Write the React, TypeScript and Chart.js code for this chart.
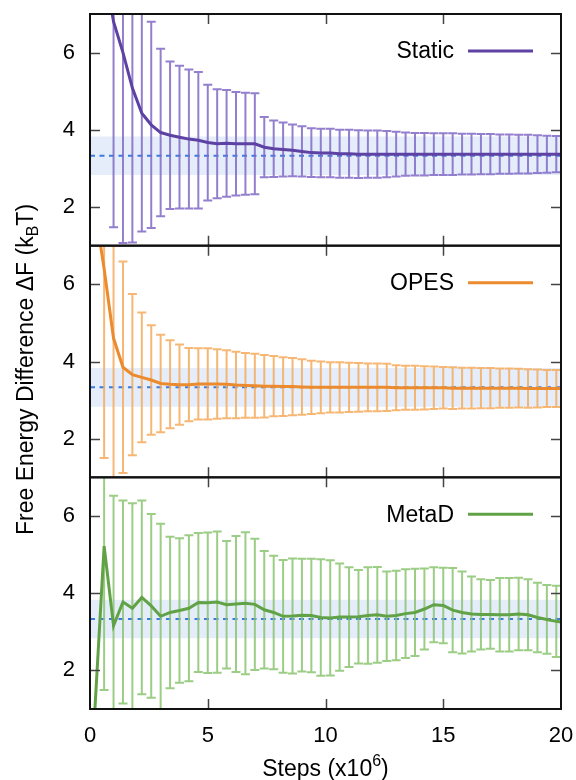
import React, { useEffect, useRef } from 'react';
import { Chart, registerables } from 'chart.js';

Chart.register(...registerables);

// x positions (steps, x10^6)
const X_STEPS = [
  0.2, 0.6, 1.0, 1.4, 1.8, 2.2, 2.6, 3.0, 3.4, 3.8,
  4.2, 4.6, 5.0, 5.4, 5.8, 6.2, 6.6, 7.0, 7.4, 7.8,
  8.2, 8.6, 9.0, 9.4, 9.8, 10.2, 10.6, 11.0, 11.4, 11.8,
  12.2, 12.6, 13.0, 13.4, 13.8, 14.2, 14.6, 15.0, 15.4, 15.8,
  16.2, 16.6, 17.0, 17.4, 17.8, 18.2, 18.6, 19.0, 19.4, 19.8, 20,
];

const STATIC_MEAN = [
  null, 8.2, 6.8, 6.0, 5.08, 4.43, 4.13, 3.93, 3.86, 3.81,
  3.76, 3.73, 3.67, 3.64, 3.65, 3.64, 3.64, 3.64, 3.55, 3.51,
  3.49, 3.47, 3.44, 3.41, 3.40, 3.40, 3.38, 3.38, 3.37, 3.37,
  3.37, 3.37, 3.37, 3.37, 3.37, 3.37, 3.37, 3.37, 3.37, 3.37,
  3.37, 3.37, 3.37, 3.37, 3.37, 3.37, 3.37, 3.37, 3.37, 3.37, 3.37,
];
const STATIC_ERR = [
  null, null, 5.32, 4.93, 4.0, 3.06, 2.67, 2.17, 1.91, 1.85,
  1.80, 1.77, 1.50, 1.41, 1.38, 1.34, 1.32, 1.31, 0.78, 0.73,
  0.70, 0.67, 0.65, 0.63, 0.63, 0.625, 0.62, 0.62, 0.62, 0.61,
  0.61, 0.60, 0.58, 0.56, 0.55, 0.55, 0.54, 0.54, 0.54, 0.53,
  0.53, 0.52, 0.52, 0.51, 0.51, 0.50, 0.50, 0.49, 0.48, 0.47, null,
];

const OPES_MEAN = [
  8.0, 6.4, 4.6, 3.85, 3.66, 3.59, 3.52, 3.43, 3.41, 3.40,
  3.40, 3.42, 3.42, 3.42, 3.41, 3.39, 3.38, 3.37, 3.36, 3.36,
  3.35, 3.35, 3.34, 3.33, 3.33, 3.33, 3.33, 3.33, 3.33, 3.33,
  3.33, 3.33, 3.32, 3.32, 3.32, 3.32, 3.32, 3.32, 3.31, 3.31,
  3.31, 3.31, 3.31, 3.31, 3.31, 3.31, 3.30, 3.30, 3.30, 3.30, 3.30,
];
const OPES_ERR = [
  null, 4.9, 4.2, 2.74, 2.09, 1.68, 1.42, 1.26, 1.14, 1.04,
  0.95, 0.92, 0.92, 0.90, 0.88, 0.86, 0.84, 0.83, 0.81, 0.78,
  0.76, 0.74, 0.72, 0.69, 0.67, 0.65, 0.65, 0.64, 0.63, 0.62,
  0.62, 0.61, 0.58, 0.57, 0.57, 0.56, 0.55, 0.54, 0.54, 0.53,
  0.53, 0.52, 0.52, 0.51, 0.51, 0.50, 0.50, 0.49, 0.48, 0.48, null,
];

const METAD_MEAN = [
  0.9, 5.22, 3.16, 3.77, 3.61, 3.89, 3.67, 3.40, 3.50, 3.55,
  3.61, 3.76, 3.75, 3.77, 3.70, 3.72, 3.74, 3.71, 3.57, 3.50,
  3.40, 3.41, 3.43, 3.42, 3.37, 3.36, 3.38, 3.38, 3.39, 3.42,
  3.44, 3.40, 3.42, 3.47, 3.50, 3.59, 3.70, 3.68, 3.56, 3.50,
  3.46, 3.45, 3.45, 3.44, 3.44, 3.46, 3.44, 3.37, 3.32, 3.27, 3.25,
];
const METAD_ERR = [
  null, 3.73, 3.36, 2.63, 2.72, 2.51, 2.38, 2.40, 1.96, 1.87,
  1.89, 1.80, 1.82, 1.83, 1.65, 1.76, 1.84, 1.70, 1.52, 1.47,
  1.46, 1.49, 1.46, 1.47, 1.51, 1.49, 1.39, 1.29, 1.21, 1.25,
  1.24, 1.16, 1.16, 1.15, 1.13, 1.05, 0.97, 0.98, 1.09, 1.06,
  0.97, 0.91, 0.89, 0.95, 0.95, 0.94, 0.92, 0.90, 0.89, 0.92, null,
];

// reference value and its uncertainty band
const REF_VALUE = 3.33;
const REF_LOW = 2.83;
const REF_HIGH = 3.83;
const X_RANGE = [0, 20];

const X_TICKS = [0, 5, 10, 15, 20];
const Y_TICKS = [2, 4, 6];
const Y_MIN = 1;
const Y_MAX = 7;

const SERIES_NAMES = ['Static', 'OPES', 'MetaD'];
const SERIES_MEANS = [STATIC_MEAN, OPES_MEAN, METAD_MEAN];
const SERIES_ERRS = [STATIC_ERR, OPES_ERR, METAD_ERR];
const LINE_COLORS = ['#5d41a3', '#ec8a2e', '#62a247'];
const BAR_COLORS = ['rgba(128,105,198,0.85)', 'rgba(246,170,92,0.85)', 'rgba(138,196,112,0.85)'];
const AXIS_IDS = ['yStatic', 'yOPES', 'yMetaD'];

const FONT = "'Liberation Sans', Arial, Helvetica, sans-serif";

function zeroPadding(s: any) {
  s.paddingLeft = 0;
  s.paddingRight = 0;
  s.paddingTop = 0;
  s.paddingBottom = 0;
}

const panelPlugin = {
  id: 'panelPlugin',
  beforeDatasetDraw(chart: any, args: any) {
    const ds = chart.data.datasets[args.index];
    if (!ds.errors) return;
    const xs = args.meta.xScale;
    const ys = args.meta.yScale;
    const ctx = chart.ctx;
    ctx.save();
    ctx.beginPath();
    ctx.rect(xs.left, ys.top, xs.right - xs.left, ys.bottom - ys.top);
    ctx.clip();
    ctx.strokeStyle = ds.errorColor;
    ctx.lineWidth = 2;
    ds.data.forEach((p: any, i: number) => {
      const e = ds.errors[i];
      if (e == null || p.y == null) return;
      const px = xs.getPixelForValue(p.x);
      const top = ys.getPixelForValue(p.y + e);
      const bot = ys.getPixelForValue(p.y - e);
      ctx.beginPath();
      ctx.moveTo(px, top);
      ctx.lineTo(px, bot);
      ctx.moveTo(px - 4.5, top);
      ctx.lineTo(px + 4.5, top);
      ctx.moveTo(px - 4.5, bot);
      ctx.lineTo(px + 4.5, bot);
      ctx.stroke();
    });
    ctx.restore();
  },
  afterDraw(chart: any) {
    const ctx = chart.ctx;
    const xs = chart.scales.x;
    ctx.save();
    AXIS_IDS.forEach((id, k) => {
      const ys = chart.scales[id];
      // tick marks (inward, mirrored)
      ctx.strokeStyle = '#444';
      ctx.lineWidth = 1.5;
      ctx.beginPath();
      Y_TICKS.forEach((v) => {
        const py = Math.round(ys.getPixelForValue(v)) + 0.5;
        ctx.moveTo(xs.left, py);
        ctx.lineTo(xs.left + 10, py);
        ctx.moveTo(xs.right, py);
        ctx.lineTo(xs.right - 10, py);
      });
      X_TICKS.slice(1, -1).forEach((v) => {
        const px = Math.round(xs.getPixelForValue(v)) + 0.5;
        ctx.moveTo(px, ys.top);
        ctx.lineTo(px, ys.top + 10);
        ctx.moveTo(px, ys.bottom);
        ctx.lineTo(px, ys.bottom - 10);
      });
      ctx.stroke();
      // frame
      ctx.strokeStyle = '#111';
      ctx.lineWidth = 2;
      ctx.strokeRect(xs.left, ys.top, xs.right - xs.left, ys.bottom - ys.top);
      // legend
      const ly = ys.top + 37;
      ctx.fillStyle = '#000';
      ctx.font = `23px ${FONT}`;
      ctx.textAlign = 'right';
      ctx.textBaseline = 'middle';
      ctx.fillText(SERIES_NAMES[k], xs.right - 107, ly + 1);
      ctx.strokeStyle = LINE_COLORS[k];
      ctx.lineWidth = 3;
      ctx.beginPath();
      ctx.moveTo(xs.right - 93, ly);
      ctx.lineTo(xs.right - 28, ly);
      ctx.stroke();
    });

    // x axis title with superscript
    ctx.fillStyle = '#000';
    ctx.textAlign = 'left';
    ctx.textBaseline = 'alphabetic';
    const main = `23px ${FONT}`;
    const small = `16px ${FONT}`;
    ctx.font = main;
    const a = 'Steps (x10';
    const c = ')';
    const wa = ctx.measureText(a).width;
    const wc = ctx.measureText(c).width;
    ctx.font = small;
    const wb = ctx.measureText('6').width;
    const cx = (xs.left + xs.right) / 2;
    let x0 = cx - (wa + wb + wc) / 2;
    const by = 776;
    ctx.font = main;
    ctx.fillText(a, x0, by);
    ctx.font = small;
    ctx.fillText('6', x0 + wa, by - 10);
    ctx.font = main;
    ctx.fillText(c, x0 + wa + wb, by);

    // y axis title with subscript
    const top = chart.scales[AXIS_IDS[0]].top;
    const bottom = chart.scales[AXIS_IDS[2]].bottom;
    ctx.translate(33, (top + bottom) / 2 + 8);
    ctx.rotate(-Math.PI / 2);
    const p1 = 'Free Energy Difference \u0394F (k';
    const p2 = 'B';
    const p3 = 'T)';
    ctx.font = main;
    const w1 = ctx.measureText(p1).width;
    const w3 = ctx.measureText(p3).width;
    ctx.font = small;
    const w2 = ctx.measureText(p2).width;
    x0 = -(w1 + w2 + w3) / 2;
    ctx.font = main;
    ctx.fillText(p1, x0, 0);
    ctx.font = small;
    ctx.fillText(p2, x0 + w1, 5);
    ctx.font = main;
    ctx.fillText(p3, x0 + w1 + w2, 0);
    ctx.restore();
  },
};

function yScale(weight: number) {
  return {
    type: 'linear',
    position: 'left',
    stack: 'panels',
    stackWeight: 1,
    weight,
    min: Y_MIN,
    max: Y_MAX,
    afterBuildTicks: (s: any) => {
      s.ticks = Y_TICKS.map((v) => ({ value: v }));
    },
    afterFit: (s: any) => {
      s.width = 90;
      zeroPadding(s);
    },
    grid: { display: false, drawTicks: false },
    border: { display: false },
    ticks: {
      padding: 15,
      color: '#000',
      font: { family: FONT, size: 22 },
    },
  };
}

export default function App() {
  const ref = useRef<HTMLCanvasElement | null>(null);

  useEffect(() => {
    if (!ref.current) return;
    const datasets: any[] = [];
    AXIS_IDS.forEach((id, k) => {
      datasets.push({
        type: 'line',
        label: 'band',
        data: [
          { x: X_RANGE[0], y: REF_HIGH },
          { x: X_RANGE[1], y: REF_HIGH },
        ],
        yAxisID: id,
        borderWidth: 0,
        pointRadius: 0,
        backgroundColor: '#e5edfa',
        fill: { value: REF_LOW },
        clip: 0,
        order: 30,
      });
      datasets.push({
        type: 'line',
        label: 'ref',
        data: [
          { x: X_RANGE[0], y: REF_VALUE },
          { x: X_RANGE[1], y: REF_VALUE },
        ],
        yAxisID: id,
        borderColor: '#3b7be0',
        borderWidth: 2,
        borderDash: [5, 4.5],
        pointRadius: 0,
        fill: false,
        clip: 0,
        order: 20,
      });
      datasets.push({
        type: 'line',
        label: SERIES_NAMES[k],
        data: X_STEPS.map((x, i) => ({ x, y: SERIES_MEANS[k][i] })),
        errors: SERIES_ERRS[k],
        errorColor: BAR_COLORS[k],
        yAxisID: id,
        borderColor: LINE_COLORS[k],
        borderWidth: 3,
        pointRadius: 0,
        tension: 0,
        fill: false,
        spanGaps: false,
        clip: 0,
        order: 10,
      });
    });

    const chart = new Chart(ref.current, {
      type: 'line',
      data: { datasets },
      options: {
        responsive: false,
        animation: false,
        devicePixelRatio: 1,
        layout: { padding: { left: 0, top: 14, right: 15, bottom: 0 } },
        plugins: {
          legend: { display: false },
          tooltip: { enabled: false },
        },
        scales: {
          x: {
            type: 'linear',
            position: 'bottom',
            min: X_RANGE[0],
            max: X_RANGE[1],
            afterBuildTicks: (s: any) => {
              s.ticks = X_TICKS.map((v) => ({ value: v }));
            },
            afterFit: (s: any) => {
              s.height = 71;
              zeroPadding(s);
            },
            grid: { display: false, drawTicks: false },
            border: { display: false },
            ticks: {
              padding: 14,
              color: '#000',
              maxRotation: 0,
              font: { family: FONT, size: 22 },
            },
          },
          yMetaD: yScale(1),
          yOPES: yScale(2),
          yStatic: yScale(3),
        } as any,
      },
      plugins: [panelPlugin],
    } as any);
    return () => chart.destroy();
  }, []);

  return (
    <div style={{ position: 'absolute', left: 0, top: 0, width: 576, height: 780, background: '#fff' }}>
      <canvas ref={ref} width={576} height={780} style={{ width: 576, height: 780, display: 'block' }} />
    </div>
  );
}
